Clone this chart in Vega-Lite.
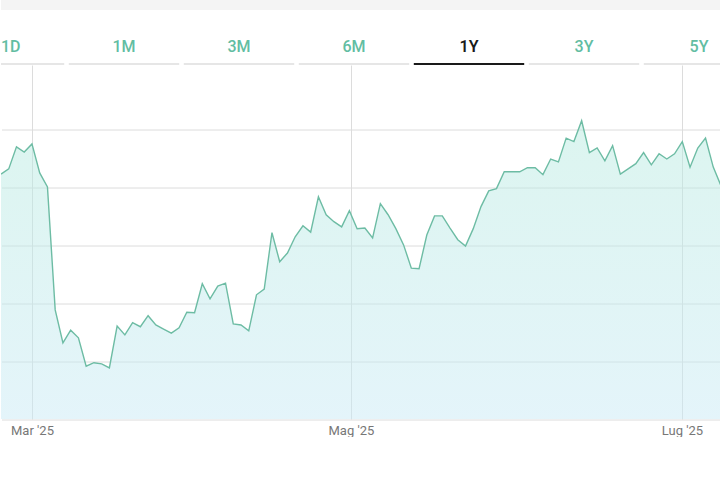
{
  "$schema": "https://vega.github.io/schema/vega-lite/v6.json",
  "padding": 0,
  "spacing": 0,
  "background": "white",
  "config": {"view": {"stroke": null}},
  "vconcat": [
    {
      "width": 720,
      "height": 10,
      "data": {"values": [{"band": "top"}]},
      "mark": {"type": "rect", "color": "#f4f4f4"},
      "encoding": {}
    },
    {
      "width": 720,
      "height": 2,
      "data": {"values": [
        {"tab": "1D", "sel": "no"},
        {"tab": "1M", "sel": "no"},
        {"tab": "3M", "sel": "no"},
        {"tab": "6M", "sel": "no"},
        {"tab": "1Y", "sel": "yes"},
        {"tab": "3Y", "sel": "no"},
        {"tab": "5Y", "sel": "no"}
      ]},
      "mark": {"type": "rect", "clip": true},
      "encoding": {
        "x": {
          "field": "tab",
          "type": "nominal",
          "sort": null,
          "scale": {"range": [-47.2, 753.2], "paddingInner": 0.04, "paddingOuter": 0},
          "axis": {
            "orient": "top",
            "title": null,
            "domain": false,
            "ticks": false,
            "tickSize": 0,
            "grid": false,
            "labelAngle": 0,
            "labelPadding": 12,
            "labelBaseline": "alphabetic",
            "labelFont": "Roboto",
            "labelFontSize": 16,
            "labelAlign": {"condition": {"test": "datum.value === '1D'", "value": "left"}, "value": "center"},
            "labelOffset": {"condition": {"test": "datum.value === '1D'", "value": -8}, "value": 0},
            "labelFontWeight": {"condition": {"test": "datum.value === '1Y'", "value": 600}, "value": 500},
            "labelColor": {"condition": {"test": "datum.value === '1Y'", "value": "#1a1a1a"}, "value": "#62bda2"},
            "minExtent": 53,
            "maxExtent": 53
          }
        },
        "color": {
          "field": "sel",
          "type": "nominal",
          "scale": {"domain": ["no", "yes"], "range": ["#e6e6e6", "#1a1a1a"]},
          "legend": null
        }
      }
    },
    {
      "width": 720,
      "height": 354,
      "data": {"values": [
        {"i": 0, "price": 4.22}, {"i": 1, "price": 4.31}, {"i": 2, "price": 4.69}, {"i": 3, "price": 4.60},
        {"i": 4, "price": 4.74}, {"i": 5, "price": 4.24}, {"i": 6, "price": 4.00}, {"i": 7, "price": 1.88},
        {"i": 8, "price": 1.31}, {"i": 9, "price": 1.53}, {"i": 10, "price": 1.40}, {"i": 11, "price": 0.91},
        {"i": 12, "price": 0.97}, {"i": 13, "price": 0.95}, {"i": 14, "price": 0.88}, {"i": 15, "price": 1.60},
        {"i": 16, "price": 1.45}, {"i": 17, "price": 1.66}, {"i": 18, "price": 1.59}, {"i": 19, "price": 1.78},
        {"i": 20, "price": 1.62}, {"i": 21, "price": 1.55}, {"i": 22, "price": 1.48}, {"i": 23, "price": 1.57},
        {"i": 24, "price": 1.84}, {"i": 25, "price": 1.83}, {"i": 26, "price": 2.33}, {"i": 27, "price": 2.07},
        {"i": 28, "price": 2.29}, {"i": 29, "price": 2.34}, {"i": 30, "price": 1.64}, {"i": 31, "price": 1.62},
        {"i": 32, "price": 1.52}, {"i": 33, "price": 2.14}, {"i": 34, "price": 2.24}, {"i": 35, "price": 3.21},
        {"i": 36, "price": 2.71}, {"i": 37, "price": 2.86}, {"i": 38, "price": 3.14}, {"i": 39, "price": 3.33},
        {"i": 40, "price": 3.22}, {"i": 41, "price": 3.83}, {"i": 42, "price": 3.52}, {"i": 43, "price": 3.40},
        {"i": 44, "price": 3.31}, {"i": 45, "price": 3.59}, {"i": 46, "price": 3.28}, {"i": 47, "price": 3.29},
        {"i": 48, "price": 3.12}, {"i": 49, "price": 3.71}, {"i": 50, "price": 3.52}, {"i": 51, "price": 3.28},
        {"i": 52, "price": 3.00}, {"i": 53, "price": 2.60}, {"i": 54, "price": 2.59}, {"i": 55, "price": 3.17},
        {"i": 56, "price": 3.50}, {"i": 57, "price": 3.50}, {"i": 58, "price": 3.29}, {"i": 59, "price": 3.09},
        {"i": 60, "price": 2.98}, {"i": 61, "price": 3.28}, {"i": 62, "price": 3.66}, {"i": 63, "price": 3.93},
        {"i": 64, "price": 3.97}, {"i": 65, "price": 4.26}, {"i": 66, "price": 4.26}, {"i": 67, "price": 4.26},
        {"i": 68, "price": 4.33}, {"i": 69, "price": 4.33}, {"i": 70, "price": 4.21}, {"i": 71, "price": 4.48},
        {"i": 72, "price": 4.43}, {"i": 73, "price": 4.84}, {"i": 74, "price": 4.78}, {"i": 75, "price": 5.14},
        {"i": 76, "price": 4.59}, {"i": 77, "price": 4.67}, {"i": 78, "price": 4.45}, {"i": 79, "price": 4.71},
        {"i": 80, "price": 4.22}, {"i": 81, "price": 4.31}, {"i": 82, "price": 4.40}, {"i": 83, "price": 4.59},
        {"i": 84, "price": 4.38}, {"i": 85, "price": 4.57}, {"i": 86, "price": 4.48}, {"i": 87, "price": 4.57},
        {"i": 88, "price": 4.78}, {"i": 89, "price": 4.34}, {"i": 90, "price": 4.67}, {"i": 91, "price": 4.84},
        {"i": 92, "price": 4.34}, {"i": 93, "price": 4.02}
      ]},
      "encoding": {
        "x": {
          "field": "i",
          "type": "quantitative",
          "scale": {"domain": [0, 93], "nice": false, "zero": false},
          "axis": {
            "title": null,
            "values": [4.0, 45.2, 87.96],
            "labelExpr": "datum.value < 20 ? \"Mar '25\" : datum.value < 60 ? \"Mag '25\" : \"Lug '25\"",
            "domain": false,
            "ticks": false,
            "grid": true,
            "gridColor": "#dcdcdc",
            "gridWidth": 1,
            "labelFont": "Roboto",
            "labelFontSize": 13,
            "labelColor": "#777777",
            "labelPadding": 5,
            "labelFlush": false
          }
        },
        "y": {
          "field": "price",
          "type": "quantitative",
          "scale": {"domain": [0, 6.1], "nice": false, "zero": false},
          "axis": {
            "title": null,
            "values": [0, 1, 2, 3, 4, 5],
            "labels": false,
            "ticks": false,
            "domain": false,
            "grid": true,
            "gridColor": "#dcdcdc",
            "gridWidth": 1,
            "translate": 1,
            "minExtent": 0,
            "maxExtent": 0
          }
        }
      },
      "layer": [
        {
          "mark": {
            "type": "area",
            "clip": true,
            "fillOpacity": 0.5,
            "color": {
              "gradient": "linear",
              "x1": 1, "y1": 1, "x2": 1, "y2": 0,
              "stops": [
                {"offset": 0, "color": "#c9eaf5"},
                {"offset": 1, "color": "#b9ebe0"}
              ]
            }
          }
        },
        {
          "mark": {"type": "line", "clip": true, "color": "#6dbca4", "strokeWidth": 1.4}
        }
      ]
    }
  ]
}
